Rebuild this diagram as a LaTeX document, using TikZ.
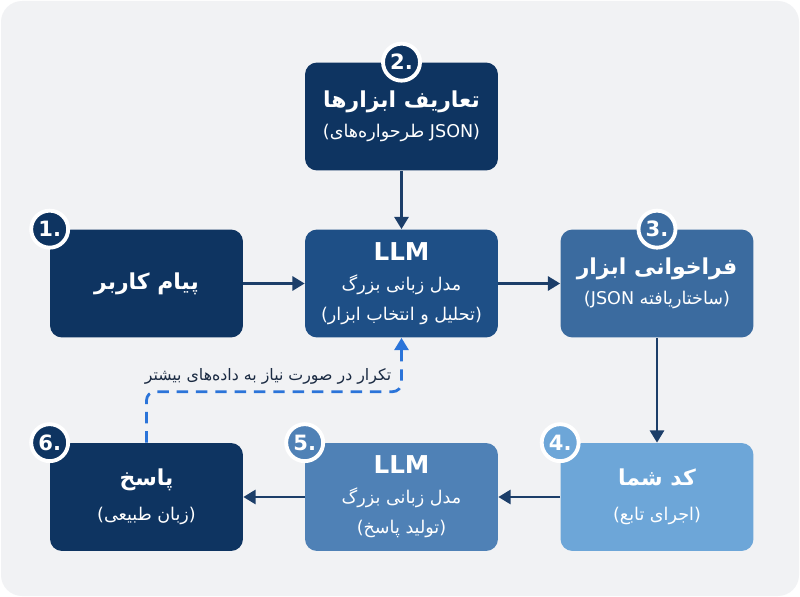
\documentclass[tikz,border=0pt]{standalone}
\usepackage{fontspec}
\setmainfont{DejaVu Sans}
\newfontfamily\fafont[Script=Arabic]{DejaVu Sans}
\usetikzlibrary{arrows.meta}
\TeXXeTstate=1

\definecolor{bggray}{HTML}{F1F2F4}
\definecolor{navy}{HTML}{0E3461}
\definecolor{llmblue}{HTML}{1E4F86}
\definecolor{callblue}{HTML}{3B6B9F}
\definecolor{codeblue}{HTML}{6DA6D8}
\definecolor{replyblue}{HTML}{4F81B6}
\definecolor{arrowblue}{HTML}{1C3E69}
\definecolor{loopblue}{HTML}{2B74D9}
\definecolor{labeltext}{HTML}{1A2A42}

% Persian run, right to left
\newcommand\fa[1]{{\fafont\beginR #1\endR}}
\newcommand\ttltxt{\bfseries\fontsize{12.5}{17}\selectfont}
\newcommand\llmtxt{\bfseries\fontsize{14}{17}\selectfont}
\newcommand\subtxt{\mdseries\fontsize{10}{17}\selectfont}

\tikzset{
  stage/.style={fill=#1, rounded corners=0.24cm, minimum width=3.86cm,
    minimum height=2.16cm, text=white, align=center, inner sep=2pt,
    font=\fontsize{10}{17}\selectfont},
  badge/.style={circle, fill=#1, draw=white, line width=2.2pt,
    minimum size=0.74cm, inner sep=0pt, text=white,
    font=\bfseries\fontsize{12}{14}\selectfont},
  flow/.style={draw=arrowblue, line width=1.6pt,
    -{Triangle[length=7pt,width=8pt]}},
  loopback/.style={draw=loopblue, line width=1.6pt,
    dash pattern=on 6.5pt off 4.5pt, rounded corners=5pt,
    -{Triangle[length=7pt,width=8pt]}}
}

\begin{document}
\begin{tikzpicture}[x=0.02cm,y=-0.02cm]
\useasboundingbox (0,0) rectangle (800,597);

% Background
\fill[white] (0,0) rectangle (800,597);
\fill[bggray, rounded corners=12pt] (1,1) rectangle (799,596);

% Stages
\node[stage=navy] (tooldef) at (401.5,116.5)
  {\ttltxt\fa{تعاریف ابزارها}\\
   \subtxt(\fa{طرحواره‌های} JSON)};
\node[stage=navy] (user) at (146.5,283.5) {\ttltxt\fa{پیام کاربر}};
\node[stage=llmblue] (llm) at (401.5,283.5)
  {\llmtxt LLM\\
   \subtxt\fa{مدل زبانی بزرگ}\\
   \subtxt(\fa{تحلیل و انتخاب ابزار})};
\node[stage=callblue] (call) at (657,283.5)
  {\ttltxt\fa{فراخوانی ابزار}\\
   \subtxt(JSON \fa{ساختاریافته})};
\node[stage=codeblue] (code) at (657,497)
  {\ttltxt\fa{کد شما}\\[3pt]
   \subtxt(\fa{اجرای تابع})};
\node[stage=replyblue] (reply) at (401.5,497)
  {\llmtxt LLM\\
   \subtxt\fa{مدل زبانی بزرگ}\\
   \subtxt(\fa{تولید پاسخ})};
\node[stage=navy] (answer) at (146.5,497)
  {\ttltxt\fa{پاسخ}\\[3pt]
   \subtxt(\fa{زبان طبیعی})};

% Step numbers
\node[badge=navy] (b1) at (user.north west) {1.};
\node[badge=navy] (b2) at (tooldef.north) {2.};
\node[badge=callblue] (b3) at (call.north) {3.};
\node[badge=codeblue] (b4) at (code.north west) {4.};
\node[badge=replyblue] (b5) at (reply.north west) {5.};
\node[badge=navy] (b6) at (answer.north west) {6.};

% Flow
\draw[flow] (user) -- (llm);
\draw[flow] (tooldef) -- (llm);
\draw[flow] (llm) -- (call);
\draw[flow] (call) -- (code);
\draw[flow] (code) -- (reply);
\draw[flow] (reply) -- (answer);

% Loop back
\draw[loopback] (answer.north) -- ++(0,-51) -| (llm.south);
\node[font=\fafont\fontsize{9}{12}\selectfont, text=labeltext] (looptxt)
  at (268,376) {\beginR تکرار در صورت نیاز به داده‌های بیشتر\endR};

\end{tikzpicture}
\end{document}
